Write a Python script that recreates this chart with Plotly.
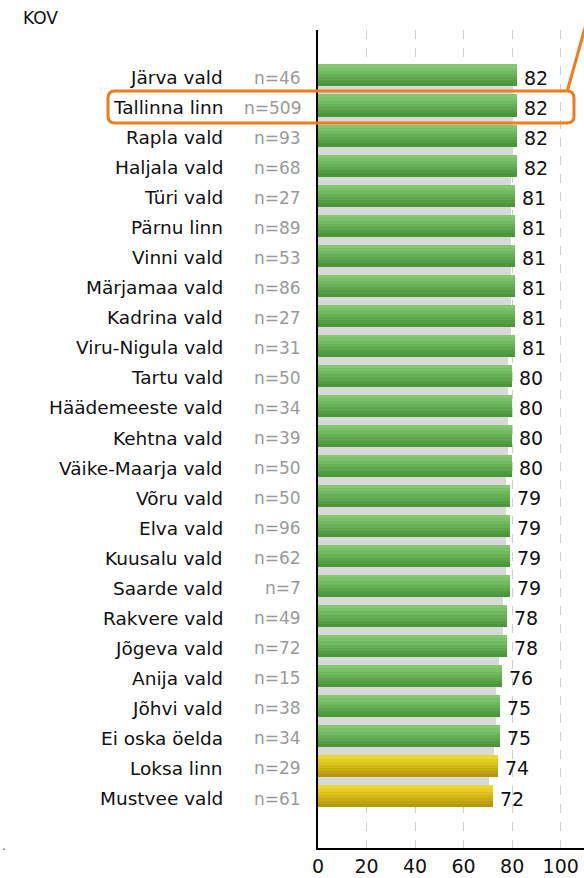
import plotly.graph_objects as go

categories = ["Järva vald", "Tallinna linn", "Rapla vald", "Haljala vald", "Türi vald",
              "Pärnu linn", "Vinni vald", "Märjamaa vald", "Kadrina vald", "Viru-Nigula vald",
              "Tartu vald", "Häädemeeste vald", "Kehtna vald", "Väike-Maarja vald", "Võru vald",
              "Elva vald", "Kuusalu vald", "Saarde vald", "Rakvere vald", "Jõgeva vald",
              "Anija vald", "Jõhvi vald", "Ei oska öelda", "Loksa linn", "Mustvee vald"]
n_labels = ["n=46", "n=509", "n=93", "n=68", "n=27", "n=89", "n=53", "n=86", "n=27", "n=31",
            "n=50", "n=34", "n=39", "n=50", "n=50", "n=96", "n=62", "n=7", "n=49", "n=72",
            "n=15", "n=38", "n=34", "n=29", "n=61"]
values = [82, 82, 82, 82, 81, 81, 81, 81, 81, 81, 80, 80, 80, 80, 79, 79, 79, 79, 78, 78,
          76, 75, 75, 74, 72]
groups = ["g"] * 23 + ["y"] * 2
x_ticks = [0, 20, 40, 60, 80, 100]

N = len(categories)
ypos = [N - 1 - i for i in range(N)]  # first category at top

# pixel geometry helpers
W, H = 584, 878
ML, MR, MT, MB = 318, 0, 30, 30
PW, PH = W - ML - MR, H - MT - MB
def px(xp):
    return (xp - ML) / PW
def py(yp):
    return (H - MB - yp) / PH

grad = {
    "g": ["#84c972", "#7ac268", "#70ba5e", "#66b155", "#5ca84b", "#529e42", "#4b963c"],
    "y": ["#ecd630", "#e4cc22", "#dcc21a", "#d2b716", "#c8ac12", "#bea210", "#b4980e"],
}

fig = go.Figure()

# shadows in the gaps between neighbouring bars
sh_y, sh_x = [], []
for i in range(N - 1):
    sh_y.append((ypos[i] + ypos[i + 1]) / 2)
    sh_x.append(min(values[i], values[i + 1]) - 1.6)
fig.add_trace(go.Bar(x=sh_x, y=sh_y, orientation="h", width=0.32,
                     marker=dict(color="#d9d9d9", line=dict(width=0)),
                     hoverinfo="skip", showlegend=False))

bw = 0.73
ns = len(grad["g"])
sw = bw / ns
for k in range(ns):
    cols = [grad[g][k] for g in groups]
    fig.add_trace(go.Bar(x=values, y=ypos, orientation="h", width=sw * 1.04,
                         offset=bw / 2 - (k + 1) * sw,
                         marker=dict(color=cols, line=dict(width=0)),
                         hoverinfo="skip", showlegend=False))

ann = []
for i in range(N):
    ann.append(dict(x=px(225), y=ypos[i], xref="paper", yref="y", text=categories[i],
                    showarrow=False, xanchor="right", yanchor="middle", yshift=-2,
                    font=dict(family="DejaVu Sans", size=18.5, color="#111111")))
    ann.append(dict(x=px(303), y=ypos[i], xref="paper", yref="y", text=n_labels[i],
                    showarrow=False, xanchor="right", yanchor="middle", yshift=-2,
                    font=dict(family="DejaVu Sans", size=17, color="#9a9a9a")))
    # value label next to bar end
    ann.append(dict(x=values[i], y=ypos[i], xref="x", yref="y", text=str(values[i]),
                    showarrow=False, xanchor="left", yanchor="middle", xshift=5, yshift=-2,
                    font=dict(family="DejaVu Sans", size=19, color="#111111")))
ann.append(dict(x=px(21), y=py(18), xref="paper", yref="paper", text="KOV",
                showarrow=False, xanchor="left", yanchor="middle",
                font=dict(family="DejaVu Sans", size=17, color="#111111")))
ann.append(dict(x=px(0), y=py(846), xref="paper", yref="paper", text=".",
                showarrow=False, xanchor="left", yanchor="middle",
                font=dict(family="DejaVu Sans", size=12, color="#555555")))

# highlight box (rounded) and pointer line
x0, x1, y0, y1, r = 108, 574, 91, 123, 7
def P(a, b):
    return f"{px(a):.5f},{py(b):.5f}"
path = (f"M {P(x0 + r, y0)} L {P(x1 - r, y0)} Q {P(x1, y0)} {P(x1, y0 + r)} "
        f"L {P(x1, y1 - r)} Q {P(x1, y1)} {P(x1 - r, y1)} L {P(x0 + r, y1)} "
        f"Q {P(x0, y1)} {P(x0, y1 - r)} L {P(x0, y0 + r)} Q {P(x0, y0)} {P(x0 + r, y0)} Z")
shapes = [
    dict(type="path", xref="paper", yref="paper", path=path,
         line=dict(color="#f07c1c", width=3), layer="above"),
    dict(type="line", xref="paper", yref="paper", x0=px(567), y0=py(92), x1=px(590), y1=py(10),
         line=dict(color="#f07c1c", width=3), layer="above"),
]

fig.update_layout(
    width=W, height=H, margin=dict(l=ML, r=MR, t=MT, b=MB),
    paper_bgcolor="white", plot_bgcolor="white",
    barmode="overlay", bargap=0, showlegend=False,
    annotations=ann, shapes=shapes,
    xaxis=dict(range=[0, 109.6], tickvals=x_ticks, ticktext=[str(t) for t in x_ticks],
               showgrid=True, gridcolor="#cfcfcf", griddash="dash", gridwidth=1,
               zeroline=False, showline=True, linecolor="#000000", linewidth=1.5,
               ticks="", tickfont=dict(family="DejaVu Sans", size=19, color="#111111"),
               fixedrange=True),
    yaxis=dict(range=[-1.714, 25.515], showticklabels=False, showgrid=False,
               zeroline=False, showline=True, linecolor="#000000", linewidth=1.5,
               ticks="", fixedrange=True),
)

fig.write_html("out.html", config={"displayModeBar": False},
               post_script="document.body.style.margin='0';document.body.style.overflow='hidden';")
